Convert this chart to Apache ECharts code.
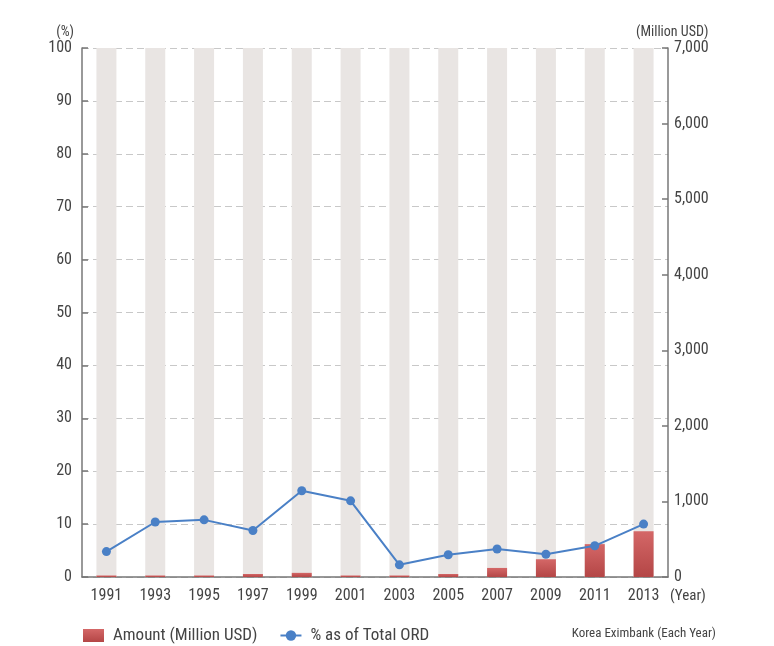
<!DOCTYPE html>
<html>
<head>
<meta charset="utf-8">
<script src="https://cdn.jsdelivr.net/npm/echarts@6/dist/echarts.min.js"></script>
<style>
  html, body { margin: 0; padding: 0; background: #fff; }
  #chart { width: 774px; height: 646px; }
</style>
</head>
<body>
<div id="chart"></div>
<script>
// Years on the category axis
var years = ['1991', '1993', '1995', '1997', '1999', '2001', '2003', '2005', '2007', '2009', '2011', '2013'];
// ORD amount, million USD (right axis)
var amount = [20, 20, 20, 40, 55, 20, 20, 40, 120, 235, 435, 605];
// Share of total ORD, % (left axis)
var share = [4.8, 10.4, 10.8, 8.8, 16.3, 14.4, 2.3, 4.2, 5.3, 4.3, 5.9, 10.0];

var FONT = '"Roboto Condensed", Roboto, sans-serif';
var TXT = '#444';

var chart = echarts.init(document.getElementById('chart'), null, { renderer: 'canvas' });

var barGrad = new echarts.graphic.LinearGradient(0, 0, 0, 1, [
  { offset: 0, color: '#d46767' },
  { offset: 1, color: '#b44646' }
]);

chart.setOption({
  animation: false,
  backgroundColor: '#fff',
  textStyle: { fontFamily: FONT, color: TXT },
  grid: { left: 82, right: 106, top: 48, bottom: 69, containLabel: false },
  legend: {
    left: 78, top: 622,
    itemGap: 22,
    itemWidth: 21, itemHeight: 13,
    textStyle: { fontFamily: FONT, fontSize: 17, color: TXT, padding: [0, 0, 0, 4] },
    data: [
      { name: 'Amount (Million USD)', icon: 'rect' },
      { name: '% as of Total ORD' }
    ]
  },
  xAxis: {
    type: 'category',
    data: years,
    boundaryGap: true,
    name: '(Year)',
    nameLocation: 'end',
    nameGap: 2,
    nameTextStyle: { fontFamily: FONT, fontSize: 15, color: TXT, verticalAlign: 'top', padding: [12, 0, 0, 0] },
    axisLine: { lineStyle: { color: '#777', width: 1.5 } },
    axisTick: { show: false },
    axisLabel: { fontFamily: FONT, fontSize: 16, color: TXT, margin: 11 }
  },
  yAxis: [
    {
      type: 'value',
      min: 0, max: 100, interval: 10,
      name: '(%)',
      nameLocation: 'end',
      nameGap: 9,
      nameTextStyle: { fontFamily: FONT, fontSize: 14, color: TXT, align: 'right', padding: [0, 8, 0, 0] },
      axisLine: { show: true, lineStyle: { color: '#777', width: 1.5 } },
      axisTick: { show: true, inside: true, length: 6, lineStyle: { color: '#777', width: 1.5 } },
      axisLabel: { fontFamily: FONT, fontSize: 16, color: TXT, margin: 10 },
      splitLine: { show: true, lineStyle: { color: '#c8c8c8', type: [7, 4], width: 1.2 } }
    },
    {
      type: 'value',
      min: 0, max: 7000, interval: 1000,
      name: '(Million USD)',
      nameLocation: 'end',
      nameGap: 9,
      nameTextStyle: { fontFamily: FONT, fontSize: 14, color: TXT, align: 'left', padding: [0, 0, 0, -32] },
      position: 'right',
      axisLine: { show: true, lineStyle: { color: '#777', width: 1.5 } },
      axisTick: { show: true, inside: true, length: 6, lineStyle: { color: '#777', width: 1.5 } },
      axisLabel: {
        fontFamily: FONT, fontSize: 16, color: TXT, margin: 6,
        formatter: function (v) { return v.toLocaleString('en-US'); }
      },
      splitLine: { show: false }
    }
  ],
  series: [
    {
      name: 'Amount (Million USD)',
      type: 'bar',
      yAxisIndex: 1,
      data: amount,
      barWidth: 20,
      showBackground: true,
      backgroundStyle: { color: '#e9e5e3' },
      itemStyle: { color: barGrad },
      z: 2
    },
    {
      name: '% as of Total ORD',
      type: 'line',
      yAxisIndex: 0,
      data: share,
      symbol: 'circle',
      symbolSize: 9,
      lineStyle: { color: '#4a80c6', width: 2 },
      itemStyle: { color: '#4a80c6' },
      z: 5
    }
  ],
  graphic: [
    {
      type: 'text',
      right: 58, top: 627,
      style: { text: 'Korea Eximbank (Each Year)', font: '13px ' + FONT, fill: TXT }
    }
  ]
});
</script>
</body>
</html>
